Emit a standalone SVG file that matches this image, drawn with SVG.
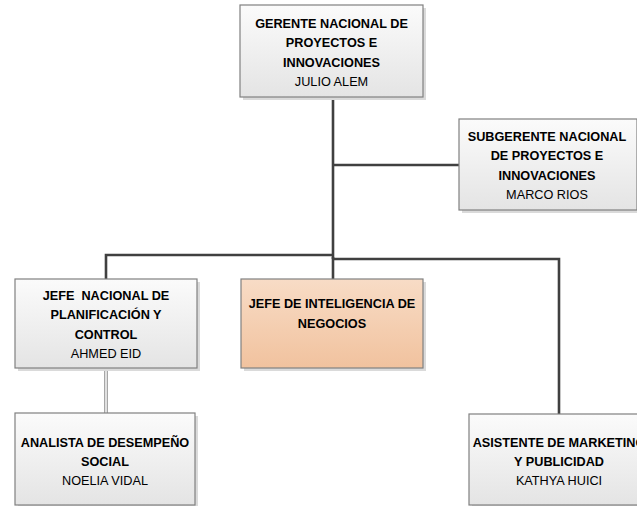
<svg xmlns="http://www.w3.org/2000/svg" width="637" height="506" viewBox="0 0 637 506">
<defs>
<linearGradient id="gw" x1="0" y1="0" x2="0" y2="1">
<stop offset="0" stop-color="#fbfbfb"/>
<stop offset="1" stop-color="#e4e4e4"/>
</linearGradient>
<linearGradient id="go" x1="0" y1="0" x2="0" y2="1">
<stop offset="0" stop-color="#f8dcc6"/>
<stop offset="1" stop-color="#f1c29e"/>
</linearGradient>
<style>
.box{fill:url(#gw);stroke:#808080;stroke-width:1.2}
.obox{fill:url(#go);stroke:#808080;stroke-width:1.2}
.sh{fill:#dadada}
.t{font-family:"Liberation Sans",Arial,sans-serif;font-size:12.7px;fill:#000;text-anchor:middle;white-space:pre}
.b{font-weight:bold}
.ln{stroke:#404040;stroke-width:2.6;fill:none}
</style>
</defs>
<rect width="637" height="506" fill="#fff"/>
<g id="connectors">
<path class="ln" d="M333 97 V259"/>
<path class="ln" d="M333 165 H459"/>
<path class="ln" d="M106 279 V255 H333"/>
<path class="ln" d="M333 257 V279"/>
<path class="ln" d="M333 259 H559 V414"/>
<path d="M106 368 V413" stroke="#a6a6a6" stroke-width="4" fill="none"/>
<path d="M106 368 V413" stroke="#efefef" stroke-width="1.6" fill="none"/>
</g>
<g id="gerente">
<rect class="sh" x="243" y="8" width="183" height="92"/>
<rect class="box" x="240" y="5" width="183" height="92"/>
<text class="t b" x="331.5" y="27.5">GERENTE NACIONAL DE</text>
<text class="t b" x="331.5" y="47">PROYECTOS E</text>
<text class="t b" x="331.5" y="66.5">INNOVACIONES</text>
<text class="t" x="331.5" y="86">JULIO ALEM</text>
</g>
<g id="subgerente">
<rect class="sh" x="462" y="122" width="180" height="91"/>
<rect class="box" x="459" y="119" width="178" height="91"/>
<text class="t b" x="547" y="140.5">SUBGERENTE NACIONAL</text>
<text class="t b" x="547" y="160">DE PROYECTOS E</text>
<text class="t b" x="547" y="179.5">INNOVACIONES</text>
<text class="t" x="547" y="199">MARCO RIOS</text>
</g>
<g id="jefe-planificacion">
<rect class="sh" x="18" y="282" width="182" height="89"/>
<rect class="box" x="15" y="279" width="182" height="89"/>
<text class="t b" x="106" y="299.5">JEFE  NACIONAL DE</text>
<text class="t b" x="106" y="319">PLANIFICACIÓN Y</text>
<text class="t b" x="106" y="338.5">CONTROL</text>
<text class="t" x="106" y="358">AHMED EID</text>
</g>
<g id="jefe-inteligencia">
<rect class="sh" x="244" y="282" width="182" height="89"/>
<rect class="obox" x="241" y="279" width="182" height="89"/>
<text class="t b" x="332" y="307.5">JEFE DE INTELIGENCIA DE</text>
<text class="t b" x="332" y="327.5">NEGOCIOS</text>
</g>
<g id="analista">
<rect class="sh" x="18" y="416" width="180" height="92"/>
<rect class="box" x="15" y="413" width="180" height="92"/>
<text class="t b" x="105" y="446.5">ANALISTA DE DESEMPEÑO</text>
<text class="t b" x="105" y="466">SOCIAL</text>
<text class="t" x="105" y="484.5">NOELIA VIDAL</text>
</g>
<g id="asistente">
<rect class="sh" x="472" y="417" width="180" height="91"/>
<rect class="box" x="469" y="414" width="180" height="91"/>
<text class="t b" x="559" y="446.5">ASISTENTE DE MARKETING</text>
<text class="t b" x="559" y="466">Y PUBLICIDAD</text>
<text class="t" x="559" y="484.5">KATHYA HUICI</text>
</g>
</svg>
